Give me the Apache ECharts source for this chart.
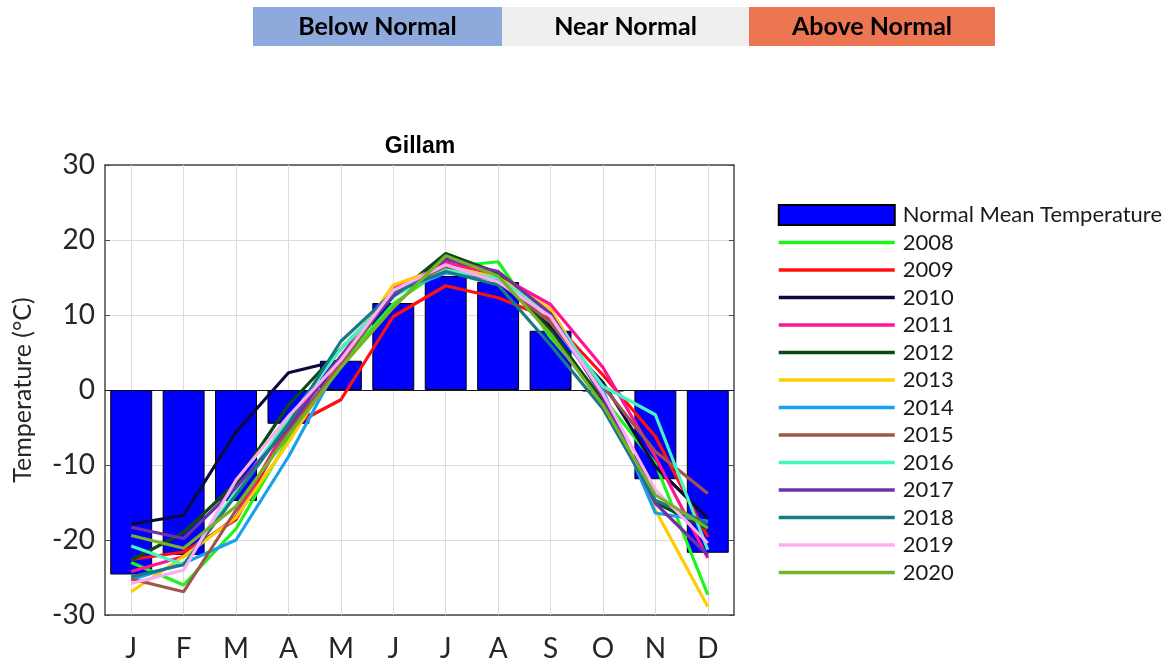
<!DOCTYPE html>
<html>
<head>
<meta charset="utf-8">
<title>Gillam monthly mean temperature</title>
<script src="https://cdn.jsdelivr.net/npm/echarts@6/dist/echarts.min.js"></script>
<style>
  html, body { margin: 0; padding: 0; background: #ffffff; }
  #chart { width: 1163px; height: 664px; }
</style>
</head>
<body>
<div id="chart"></div>
<script>
// Month letters along the x axis
const months = ['J', 'F', 'M', 'A', 'M', 'J', 'J', 'A', 'S', 'O', 'N', 'D'];

// Normal (climate) mean temperature per month, °C
const normalMean = [-24.6, -22.0, -14.8, -4.5, 3.9, 11.6, 15.2, 14.4, 7.9, -0.2, -11.9, -21.7];

// Monthly mean temperature per year, °C
const y2008 = [-23.0, -26.0, -18.5, -6.5, 3.5, 11.5, 16.4, 17.1, 7.0, -1.0, -9.8, -27.3];
const y2009 = [-22.6, -21.6, -17.3, -5.0, -1.3, 9.8, 13.9, 12.3, 9.5, 2.0, -6.2, -19.6];
const y2010 = [-17.9, -16.7, -5.6, 2.3, 4.0, 12.5, 17.5, 15.5, 8.5, 1.0, -10.2, -17.1];
const y2011 = [-24.2, -22.2, -16.9, -4.5, 4.5, 13.5, 17.0, 15.3, 11.4, 3.0, -8.9, -22.4];
const y2012 = [-22.7, -19.0, -12.4, -2.0, 5.5, 12.5, 18.2, 15.6, 8.0, -1.5, -15.0, -18.5];
const y2013 = [-26.9, -22.2, -17.0, -7.0, 4.0, 14.0, 16.5, 15.0, 10.8, -0.5, -16.0, -28.9];
const y2014 = [-25.3, -23.1, -20.0, -8.9, 4.0, 12.8, 15.6, 14.7, 9.0, 0.0, -16.4, -17.5];
const y2015 = [-25.2, -26.9, -16.0, -5.5, 3.5, 13.0, 16.3, 14.5, 9.0, 0.5, -8.2, -13.8];
const y2016 = [-20.8, -23.3, -13.5, -4.0, 5.5, 12.5, 16.0, 14.9, 10.0, 0.5, -3.3, -21.3];
const y2017 = [-18.3, -19.8, -13.0, -5.0, 4.5, 12.5, 17.4, 15.8, 10.2, -1.0, -15.1, -22.0];
const y2018 = [-24.9, -23.3, -14.0, -4.5, 6.5, 13.0, 15.8, 14.0, 6.0, -2.5, -14.7, -17.8];
const y2019 = [-25.8, -24.0, -12.0, -3.5, 4.0, 13.3, 16.7, 14.4, 9.8, -0.5, -13.3, -20.4];
const y2020 = [-19.4, -21.1, -15.5, -6.0, 3.0, 11.0, 17.9, 15.2, 7.5, -2.0, -14.0, -18.4];

const years = ['2008', '2009', '2010', '2011', '2012', '2013', '2014', '2015', '2016', '2017', '2018', '2019', '2020'];
const yearValues = [y2008, y2009, y2010, y2011, y2012, y2013, y2014, y2015, y2016, y2017, y2018, y2019, y2020];
const yearColors = ['#1af51a', '#ff1010', '#0a0a40', '#ff1493', '#0b4a12', '#ffcc00', '#1aa0f0',
                    '#a0544c', '#44f5c0', '#7030a8', '#1a7a84', '#ffaaf5', '#78b02a'];

// Category band above the chart
const bandLabels = ['Below Normal', 'Near Normal', 'Above Normal'];
const bandColors = ['#8eaadc', '#efefef', '#ec7552'];

const axisColor = '#4a4a4a';
const gridColor = '#dcdcdc';
const font = 'Lato, "Open Sans", sans-serif';

const chart = echarts.init(document.getElementById('chart'), null, { renderer: 'canvas' });

const bandX = [253, 502, 749, 995];
const graphic = bandLabels.map((label, i) => ({
  type: 'group',
  children: [
    {
      type: 'rect',
      shape: { x: bandX[i], y: 7, width: bandX[i + 1] - bandX[i], height: 39 },
      style: { fill: bandColors[i] },
      silent: true
    },
    {
      type: 'text',
      x: (bandX[i] + bandX[i + 1]) / 2,
      y: 27,
      style: {
        text: label,
        fill: '#000000',
        font: 'bold 25px ' + font,
        textAlign: 'center',
        textVerticalAlign: 'middle'
      },
      silent: true
    }
  ]
}));

const lineSeries = years.map((yr, i) => ({
  name: yr,
  type: 'line',
  data: yearValues[i],
  symbol: 'none',
  showSymbol: false,
  z: 4,
  lineStyle: { color: yearColors[i], width: 3.2 },
  itemStyle: { color: yearColors[i] },
  emphasis: { disabled: true }
}));

// Legend: a filled box for the normals, plain line swatches for the years
const legendData = [{ name: 'Normal Mean Temperature', icon: 'rect' }]
  .concat(years.map(yr => ({ name: yr, itemStyle: { opacity: 0 } })));

const option = {
  backgroundColor: '#ffffff',
  animation: false,
  title: {
    text: 'Gillam',
    left: 415,
    top: 130,
    textAlign: 'center',
    textStyle: { fontFamily: '"Liberation Sans", Arial, sans-serif', fontWeight: 'bold', fontSize: 23, color: '#000' }
  },
  graphic: graphic,
  legend: {
    orient: 'vertical',
    left: 777,
    top: 204,
    padding: 0,
    itemWidth: 116,
    itemHeight: 20,
    itemGap: 5.5,
    selectedMode: false,
    lineStyle: { width: 3.5 },
    textStyle: { fontFamily: font, fontSize: 22, color: '#1a1a1a', padding: [0, 0, 0, 3] },
    data: legendData
  },
  grid: { left: 105, right: 429, top: 165, bottom: 49, containLabel: false },
  xAxis: [
    {
      type: 'category',
      data: months,
      boundaryGap: true,
      axisLine: { show: true, onZero: false, lineStyle: { color: axisColor, width: 1.5 } },
      axisTick: { show: true, inside: true, alignWithLabel: true, length: 5, lineStyle: { color: axisColor } },
      axisLabel: { fontFamily: font, fontSize: 28, color: '#262626', margin: 20 },
      splitLine: { show: false }
    },
    {
      type: 'category',
      data: months,
      position: 'top',
      boundaryGap: true,
      axisLine: { show: true, onZero: false, lineStyle: { color: axisColor, width: 1.5 } },
      axisTick: { show: true, inside: true, alignWithLabel: true, length: 5, lineStyle: { color: axisColor } },
      axisLabel: { show: false },
      splitLine: { show: false }
    }
  ],
  yAxis: [
    {
      type: 'value',
      min: -30,
      max: 30,
      interval: 10,
      name: 'Temperature (°C)',
      nameLocation: 'middle',
      nameGap: 70,
      nameTextStyle: { fontFamily: font, fontSize: 25, color: '#262626' },
      axisLine: { show: true, onZero: false, lineStyle: { color: axisColor, width: 1.5 } },
      axisTick: { show: true, inside: true, length: 5, lineStyle: { color: axisColor } },
      axisLabel: { fontFamily: font, fontSize: 28, color: '#262626', margin: 10 },
      splitLine: { show: true, lineStyle: { color: gridColor, width: 1 } }
    },
    {
      type: 'value',
      min: -30,
      max: 30,
      interval: 10,
      position: 'right',
      axisLine: { show: true, onZero: false, lineStyle: { color: axisColor, width: 1.5 } },
      axisTick: { show: true, inside: true, length: 5, lineStyle: { color: axisColor } },
      axisLabel: { show: false },
      splitLine: { show: false }
    }
  ],
  series: [
    {
      name: 'Normal Mean Temperature',
      type: 'bar',
      data: normalMean,
      barWidth: '80%',
      z: 3,
      itemStyle: { color: '#0000ff', borderColor: '#000000', borderWidth: 1 },
      emphasis: { disabled: true },
      // monthly vertical grid lines behind the bars
      markLine: {
        silent: true,
        symbol: 'none',
        z: 1,
        label: { show: false },
        lineStyle: { color: gridColor, width: 1, type: 'solid' },
        data: months.map((m, i) => ({ xAxis: i }))
      }
    },
    {
      name: 'baseline',
      type: 'line',
      data: [],
      z: 3,
      // zero baseline under the bars
      markLine: {
        silent: true,
        symbol: 'none',
        z: 3,
        label: { show: false },
        lineStyle: { color: '#1a1a1a', width: 1.2, type: 'solid' },
        data: [{ yAxis: 0 }]
      }
    }
  ].concat(lineSeries)
};

chart.setOption(option);
</script>
</body>
</html>
